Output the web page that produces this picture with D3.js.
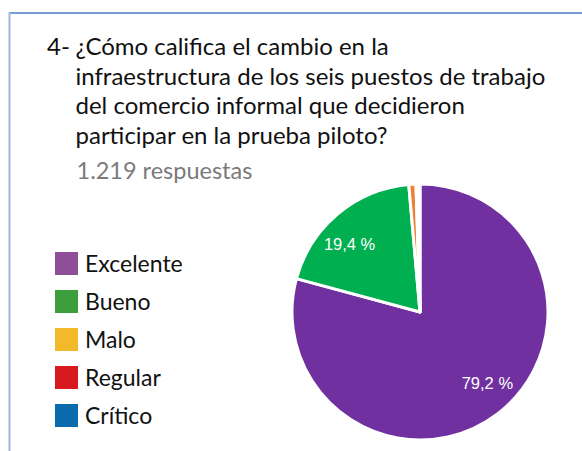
<!DOCTYPE html>
<html><head><meta charset="utf-8">
<script src="https://cdn.jsdelivr.net/npm/d3@7"></script>
<style>html,body{margin:0;padding:0;background:#fff;overflow:hidden} svg{display:block}</style>
</head><body><svg id="c" width="582" height="451"></svg>
<script>
const categories = ["Excelente", "Bueno", "Malo", "Regular", "Crítico"];
const values = [79.2, 19.4, 0.9, 0.3, 0.2];
const pieColors = ["#7030a0", "#00b050", "#f08032", "#e0301e", "#1f6fb5"];
const legendColors = ["#8e4f98", "#3c9f3c", "#f2b92a", "#d71a1d", "#0a6aae"];
const titleNumber = "4-";
const titleLines = [
  "¿Cómo califica el cambio en la",
  "infraestructura de los seis puestos de trabajo",
  "del comercio informal que decidieron",
  "participar en la prueba piloto?"
];
const subtitle = "1.219 respuestas";

const svg = d3.select("#c");
const W = 582, H = 451;

// frame
svg.append("line").attr("x1", 9).attr("x2", W).attr("y1", 13).attr("y2", 13)
  .attr("stroke", "#739dd3").attr("stroke-width", 2);
svg.append("line").attr("x1", 9.5).attr("x2", 9.5).attr("y1", 12).attr("y2", H)
  .attr("stroke", "#9fb8e0").attr("stroke-width", 2);

// title
const titleFont = "Lato, 'Open Sans', sans-serif";
svg.append("text").attr("x", 47).attr("y", 55).text(titleNumber)
  .attr("font-family", titleFont).attr("font-size", 24).attr("fill", "#111");
const ty = d3.scaleLinear().domain([0, 1]).range([55, 84.7]);
svg.selectAll("text.tl").data(titleLines).join("text").attr("class", "tl")
  .attr("x", 75.5).attr("y", (d, i) => ty(i)).text(d => d)
  .attr("font-family", titleFont).attr("font-size", 24).attr("fill", "#111");
svg.append("text").attr("x", 76.5).attr("y", 178.5).text(subtitle)
  .attr("font-family", titleFont).attr("font-size", 23.5).attr("fill", "#7a7a7a");

// pie
const cx = 420, cy = 312, R = 128;
const pie = d3.pie().sort(null).value(d => d);
const arcs = pie(values);
const arc = d3.arc().innerRadius(0).outerRadius(R);
const g = svg.append("g").attr("transform", `translate(${cx},${cy})`);
g.selectAll("path").data(arcs).join("path")
  .attr("d", arc).attr("fill", (d, i) => pieColors[i])
  .attr("stroke", "#fff").attr("stroke-width", 3).attr("stroke-linejoin", "round");

const labelShift = -6 * Math.PI / 180;
const lr = 98;
g.selectAll("text").data(arcs.filter(d => d.value > 5)).join("text")
  .attr("x", d => lr * Math.sin((d.startAngle + d.endAngle) / 2 + labelShift))
  .attr("y", d => -lr * Math.cos((d.startAngle + d.endAngle) / 2 + labelShift))
  .attr("text-anchor", "middle").attr("dominant-baseline", "central")
  .attr("font-family", "Arial, 'Liberation Sans', sans-serif").attr("font-size", 16.5)
  .attr("fill", "#fff")
  .text(d => d.value.toFixed(1).replace(".", ",") + " %");

// legend
const ly = d3.scalePoint().domain(categories).range([252, 404]);
const lg = svg.append("g");
lg.selectAll("rect").data(categories).join("rect")
  .attr("x", 55).attr("y", d => ly(d)).attr("width", 23).attr("height", 23)
  .attr("fill", (d, i) => legendColors[i]);
lg.selectAll("text").data(categories).join("text")
  .attr("x", 85).attr("y", d => ly(d) + 19.5).text(d => d)
  .attr("font-family", titleFont).attr("font-size", 23).attr("fill", "#111");
</script>
</body></html>
